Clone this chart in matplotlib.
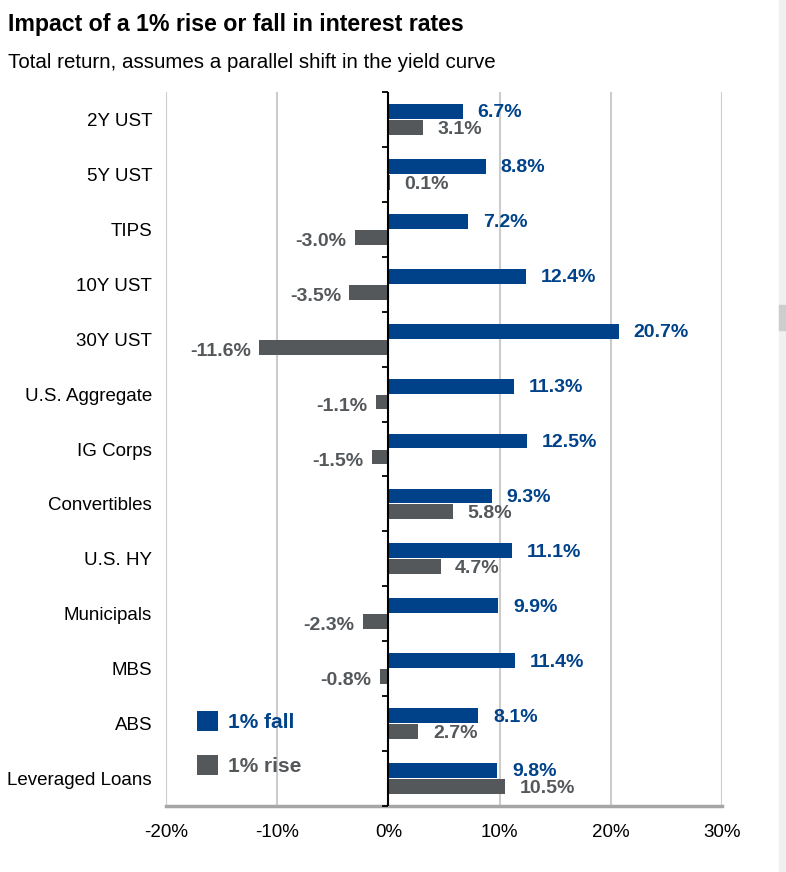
import numpy as np
import matplotlib.pyplot as plt
from matplotlib.patches import Rectangle

plt.rcParams['font.family'] = ['Liberation Sans', 'DejaVu Sans']

# ============================================================
# DATA
# ============================================================
categories = ['2Y UST', '5Y UST', 'TIPS', '10Y UST', '30Y UST', 'U.S. Aggregate',
              'IG Corps', 'Convertibles', 'U.S. HY', 'Municipals', 'MBS', 'ABS',
              'Leveraged Loans']
fall_1pct = [6.7, 8.8, 7.2, 12.4, 20.7, 11.3, 12.5, 9.3, 11.1, 9.9, 11.4, 8.1, 9.8]
rise_1pct = [3.1, 0.1, -3.0, -3.5, -11.6, -1.1, -1.5, 5.8, 4.7, -2.3, -0.8, 2.7, 10.5]
xticks = [-20, -10, 0, 10, 20, 30]

BLUE = '#00428A'
GRAY = '#54585B'
GRID = '#CCCCCC'

# ============================================================
# FIGURE
# ============================================================
fig = plt.figure(figsize=(7.86, 8.72), dpi=100)
ax = fig.add_axes([166 / 786, 66 / 872, 556 / 786, 714 / 872])

ys = np.arange(len(categories))
bh = 0.27
off = 0.145
ax.barh(ys - off, fall_1pct, height=bh, color=BLUE, label='1% fall', zorder=3)
ax.barh(ys + off, rise_1pct, height=bh, color=GRAY, label='1% rise', zorder=3)

# value labels
for y, v in zip(ys, fall_1pct):
    ax.annotate(f'{v:.1f}%', (v, y - off), xytext=(10.5, -1), textcoords='offset points',
                ha='left', va='center', fontsize=14, fontweight='bold', color=BLUE)
for y, v in zip(ys, rise_1pct):
    if v >= 0:
        ax.annotate(f'{v:.1f}%', (v, y + off), xytext=(10.5, -1.5), textcoords='offset points',
                    ha='left', va='center', fontsize=14, fontweight='bold', color=GRAY)
    else:
        ax.annotate(f'{v:.1f}%', (v, y + off), xytext=(-6, -3), textcoords='offset points',
                    ha='right', va='center', fontsize=14, fontweight='bold', color=GRAY)

ax.set_xlim(xticks[0], xticks[-1])
ax.set_ylim(len(categories) - 0.5, -0.5)

# grid + zero axis with category dividers
for x in xticks:
    if x != 0:
        ax.axvline(x, color=GRID, linewidth=1.5, zorder=1)
ax.axvline(0, color='black', linewidth=1.5, zorder=4)
ax.plot(np.zeros(len(categories) + 1), np.arange(len(categories) + 1) - 0.5,
        linestyle='none', marker=0, markersize=4.5, markeredgewidth=1.3,
        color='black', zorder=4, clip_on=False)

for s in ['top', 'right', 'left']:
    ax.spines[s].set_visible(False)
ax.spines['bottom'].set_color('#A6A6A6')
ax.spines['bottom'].set_linewidth(2.5)

ax.set_yticks(ys)
ax.set_yticklabels(categories, fontsize=13.5)
ax.set_xticks(xticks)
ax.set_xticklabels([f'{x}%' for x in xticks], fontsize=13.5)
ax.tick_params(axis='y', length=0, pad=10)
ax.tick_params(axis='x', length=0, pad=13)

leg = ax.legend(loc='center left', bbox_to_anchor=(0.022, 0.088), frameon=False,
                handlelength=1.0, handleheight=1.1, labelspacing=1.1,
                handletextpad=0.5, prop={'weight': 'bold', 'size': 15})
for txt, c in zip(leg.get_texts(), [BLUE, GRAY]):
    txt.set_color(c)

# titles
fig.text(8 / 786, 1 - 24 / 872, 'Impact of a 1% rise or fall in interest rates',
         fontsize=16.7, fontweight='bold', ha='left', va='center')
fig.text(8 / 786, 1 - 62 / 872, 'Total return, assumes a parallel shift in the yield curve',
         fontsize=14.8, ha='left', va='center')

# scrollbar strip at the right edge
fig.patches.append(Rectangle((779 / 786, 0), 7 / 786, 1, transform=fig.transFigure,
                             color='#F0F0F0', zorder=0))
fig.patches.append(Rectangle((779 / 786, 1 - 330 / 872), 7 / 786, 25 / 872,
                             transform=fig.transFigure, color='#CDCDCD', zorder=1))

fig.savefig('out.png', dpi=100)
